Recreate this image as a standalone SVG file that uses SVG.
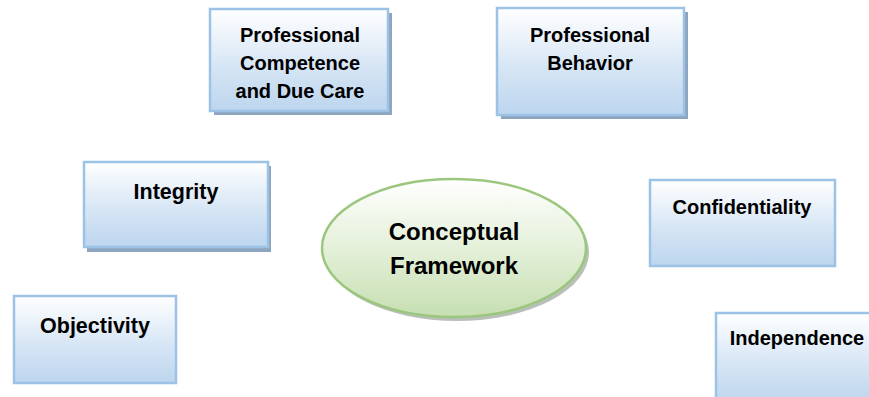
<svg xmlns="http://www.w3.org/2000/svg" width="869" height="397" viewBox="0 0 869 397">
<defs>
<linearGradient id="gb" x1="0" y1="0" x2="0" y2="1">
<stop offset="0" stop-color="#ffffff"/>
<stop offset="0.55" stop-color="#d7e6f5"/>
<stop offset="1" stop-color="#bcd5ee"/>
</linearGradient>
<linearGradient id="gg" x1="0" y1="0" x2="0" y2="1">
<stop offset="0" stop-color="#ffffff"/>
<stop offset="0.5" stop-color="#e4f0d9"/>
<stop offset="1" stop-color="#c6dfb1"/>
</linearGradient>
</defs>
<style>
.box{fill:url(#gb);stroke:#9cc2e5;stroke-width:2.5}
.sh{fill:#8ea5bf}
.t{font-family:"Liberation Sans",Arial,sans-serif;font-weight:bold;font-size:20px;fill:#000;text-anchor:middle}
.tl{font-size:21.5px}
.tc{font-size:24px}
</style>
<g id="connectors"/>
<g id="n-competence">
<rect class="sh" x="214" y="13" width="178" height="102"/>
<rect class="box" x="210" y="9" width="178" height="102"/>
<text class="t" x="300" y="42">Professional</text>
<text class="t" x="300" y="70">Competence</text>
<text class="t" x="300" y="98">and Due Care</text>
</g>
<g id="n-behavior">
<rect class="sh" x="501" y="12" width="187" height="107"/>
<rect class="box" x="497" y="8" width="187" height="107"/>
<text class="t" x="590" y="42">Professional</text>
<text class="t" x="590" y="70">Behavior</text>
</g>
<g id="n-integrity">
<rect class="sh" x="87" y="166" width="184" height="86"/>
<rect class="box" x="84" y="162" width="184" height="85"/>
<text class="t tl" x="176" y="199">Integrity</text>
</g>
<g id="n-confidentiality">
<rect class="box" x="650" y="180" width="185" height="86"/>
<text class="t" x="742" y="214">Confidentiality</text>
</g>
<g id="n-objectivity">
<rect class="box" x="14" y="296" width="162" height="87"/>
<text class="t tl" x="95" y="333">Objectivity</text>
</g>
<g id="n-independence">
<rect class="box" x="716" y="313" width="160" height="90"/>
<text class="t" x="797" y="345">Independence</text>
</g>
<g id="n-center">
<ellipse cx="457" cy="252" rx="132" ry="69" fill="#9aa59a" opacity="0.7"/>
<ellipse cx="454" cy="248" rx="132" ry="69" fill="url(#gg)" stroke="#9bc67e" stroke-width="2.5"/>
<text class="t tc" x="454" y="240">Conceptual</text>
<text class="t tc" x="454" y="274">Framework</text>
</g>
</svg>
